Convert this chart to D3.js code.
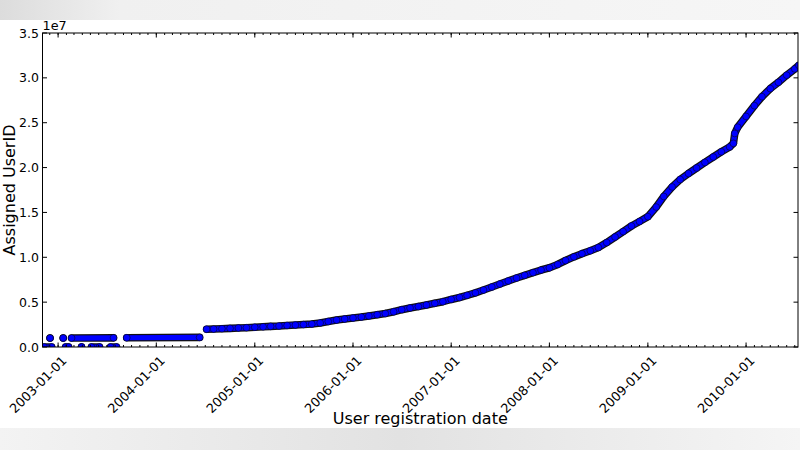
<!DOCTYPE html>
<html>
<head>
<meta charset="utf-8">
<script src="https://cdn.jsdelivr.net/npm/d3@7"></script>
<style>
  body { margin: 0; background: #fff; }
  svg { display: block; font-family: "DejaVu Sans", sans-serif; }
</style>
</head>
<body>
<svg id="chart" width="800" height="450"></svg>
<script>
// Main growth curve (date, assigned user id)
const curveDates = [
  '2004-07-06', '2004-08-01', '2004-09-01', '2004-10-01', '2004-11-01', '2004-12-01',
  '2005-01-01', '2005-02-01', '2005-03-01', '2005-04-01', '2005-05-01', '2005-06-01',
  '2005-07-01', '2005-08-01', '2005-09-01', '2005-10-01', '2005-11-01', '2005-12-01',
  '2006-01-01', '2006-02-01', '2006-03-01', '2006-04-01', '2006-05-01', '2006-06-01',
  '2006-07-01', '2006-08-01', '2006-09-01', '2006-10-01', '2006-11-01', '2006-12-01',
  '2007-01-01', '2007-02-01', '2007-03-01', '2007-04-01', '2007-05-01', '2007-06-01',
  '2007-07-01', '2007-08-01', '2007-09-01', '2007-10-01', '2007-11-01', '2007-12-01',
  '2008-01-01', '2008-02-01', '2008-03-01', '2008-04-01', '2008-05-01', '2008-06-01',
  '2008-07-01', '2008-08-01', '2008-09-01', '2008-10-01', '2008-11-01', '2008-12-01',
  '2009-01-01', '2009-02-01', '2009-03-01', '2009-04-01', '2009-05-01', '2009-06-01',
  '2009-07-01', '2009-08-01', '2009-09-01', '2009-10-01', '2009-11-01', '2009-11-15',
  '2009-11-20', '2009-12-01', '2010-01-01', '2010-02-01', '2010-03-01', '2010-04-01',
  '2010-05-01', '2010-06-01', '2010-07-01', '2010-07-16'
];
const curveValues = [
  1.98e6, 2.00e6, 2.04e6, 2.08e6, 2.12e6, 2.15e6,
  2.20e6, 2.25e6, 2.30e6, 2.34e6, 2.40e6, 2.45e6,
  2.50e6, 2.56e6, 2.68e6, 2.84e6, 3.00e6, 3.12e6,
  3.23e6, 3.34e6, 3.46e6, 3.60e6, 3.73e6, 3.93e6,
  4.16e6, 4.35e6, 4.51e6, 4.68e6, 4.87e6, 5.05e6,
  5.30e6, 5.52e6, 5.76e6, 6.04e6, 6.35e6, 6.69e6,
  7.02e6, 7.36e6, 7.69e6, 7.99e6, 8.29e6, 8.58e6,
  8.83e6, 9.20e6, 9.64e6, 1.005e7, 1.04e7, 1.073e7,
  1.109e7, 1.164e7, 1.226e7, 1.287e7, 1.349e7, 1.399e7,
  1.453e7, 1.56e7, 1.678e7, 1.784e7, 1.867e7, 1.934e7,
  1.995e7, 2.057e7, 2.118e7, 2.176e7, 2.23e7, 2.27e7,
  2.38e7, 2.45e7, 2.57e7, 2.69e7, 2.79e7, 2.88e7,
  2.95e7, 3.03e7, 3.10e7, 3.14e7
];

// Early registrations: runs of points at ~0 and at ~1e6 (start, end)
const lowRuns = [
  ['2002-11-10', '2002-12-08'],
  ['2003-01-29', '2003-02-09'],
  ['2003-03-29', '2003-03-29'],
  ['2003-05-05', '2003-06-04'],
  ['2003-07-15', '2003-08-06']
];
const lowRunValues = [[0, 0], [0, 0], [0, 0], [0, 0], [0, 0]];
const highRuns = [
  ['2002-12-02', '2002-12-02'],
  ['2003-01-20', '2003-01-20'],
  ['2003-02-20', '2003-07-26'],
  ['2003-09-13', '2004-06-10']
];
const highRunValues = [[1.0e6, 1.0e6], [1.0e6, 1.0e6], [1.0e6, 1.02e6], [1.03e6, 1.07e6]];

const xDomain = ['2002-11-04', '2010-07-13'];
const yTicks = [0, 0.5e7, 1.0e7, 1.5e7, 2.0e7, 2.5e7, 3.0e7, 3.5e7];

const parse = d3.timeParse('%Y-%m-%d');
const svg = d3.select('#chart');
const m = {left: 42.5, right: 798, top: 33, bottom: 347};

// Blurry grey bands of the original frame grab
const defs = svg.append('defs');
const grad = defs.append('linearGradient').attr('id', 'band');
grad.append('stop').attr('offset', '0%').attr('stop-color', '#f3f3f3');
grad.append('stop').attr('offset', '50%').attr('stop-color', '#e2e2e2');
grad.append('stop').attr('offset', '100%').attr('stop-color', '#f5f5f5');
const gradTop = defs.append('linearGradient').attr('id', 'bandTop');
gradTop.append('stop').attr('offset', '0%').attr('stop-color', '#dcdcdc');
gradTop.append('stop').attr('offset', '15%').attr('stop-color', '#f0f0f0');
gradTop.append('stop').attr('offset', '100%').attr('stop-color', '#f6f6f6');
svg.append('rect').attr('x', 0).attr('y', 0).attr('width', 800).attr('height', 20).attr('fill', 'url(#bandTop)');
svg.append('rect').attr('x', 0).attr('y', 428).attr('width', 800).attr('height', 22).attr('fill', 'url(#band)');

defs.append('clipPath').attr('id', 'plot')
  .append('rect')
    .attr('x', m.left).attr('y', m.top)
    .attr('width', m.right - m.left).attr('height', m.bottom - m.top);

const x = d3.scaleTime().domain(xDomain.map(parse)).range([m.left, m.right]);
const y = d3.scaleLinear().domain([0, 3.5e7]).range([m.bottom, m.top]);

// series -> point lists
const curve = curveDates.map((d, i) => ({date: parse(d), value: curveValues[i]}));
const runs = lowRuns.map((r, i) => r.map((d, j) => ({date: parse(d), value: lowRunValues[i][j]})))
  .concat(highRuns.map((r, i) => r.map((d, j) => ({date: parse(d), value: highRunValues[i][j]}))));
const series = runs.concat([curve]);

const line = d3.line().x(d => x(d.date)).y(d => y(d.value));
const plot = svg.append('g').attr('clip-path', 'url(#plot)');

// dense scatter drawn as a band: dark rim, blue core, then the markers
plot.selectAll('path.rim').data(series).join('path')
    .attr('class', 'rim')
    .attr('d', line)
    .attr('fill', 'none')
    .attr('stroke', '#111')
    .attr('stroke-width', 7.6)
    .attr('stroke-linecap', 'round')
    .attr('stroke-linejoin', 'round');
plot.selectAll('path.core').data(series).join('path')
    .attr('class', 'core')
    .attr('d', line)
    .attr('fill', 'none')
    .attr('stroke', '#0000ff')
    .attr('stroke-width', 5.2)
    .attr('stroke-linecap', 'round')
    .attr('stroke-linejoin', 'round');
plot.selectAll('circle').data(series.flat()).join('circle')
    .attr('cx', d => x(d.date))
    .attr('cy', d => y(d.value))
    .attr('r', 3.4)
    .attr('fill', '#0000ff')
    .attr('stroke', '#000')
    .attr('stroke-width', 0.7)
    .attr('stroke-opacity', 0.7);

// frame
svg.append('rect')
    .attr('x', m.left).attr('y', m.top)
    .attr('width', m.right - m.left).attr('height', m.bottom - m.top)
    .attr('fill', 'none').attr('stroke', '#000').attr('stroke-width', 1);

// ticks (inward, matplotlib classic style)
const years = x.ticks(d3.timeYear.every(1));
const months = x.ticks(d3.timeMonth.every(1));
const tickG = svg.append('g').attr('stroke', '#000').attr('stroke-width', 1);
[[m.bottom, -1], [m.top, 1]].forEach(([yy, dir]) => {
  tickG.append('g').selectAll('line').data(months).join('line')
      .attr('x1', d => x(d)).attr('x2', d => x(d))
      .attr('y1', yy).attr('y2', yy + dir * 2);
  tickG.append('g').selectAll('line').data(years).join('line')
      .attr('x1', d => x(d)).attr('x2', d => x(d))
      .attr('y1', yy).attr('y2', yy + dir * 4.5);
});
[[m.left, 1], [m.right, -1]].forEach(([xx, dir]) => {
  tickG.append('g').selectAll('line').data(yTicks).join('line')
      .attr('x1', xx).attr('x2', xx + dir * 4.5)
      .attr('y1', d => y(d)).attr('y2', d => y(d));
});

// tick labels
const fmtDate = d3.timeFormat('%Y-%m-%d');
svg.append('g').selectAll('text').data(years).join('text')
    .attr('transform', d => `translate(${x(d) + 3},${m.bottom + 8}) rotate(-45)`)
    .attr('text-anchor', 'end')
    .attr('dy', '0.72em')
    .attr('font-size', 12.8)
    .attr('fill', '#000')
    .text(fmtDate);

svg.append('g').selectAll('text').data(yTicks).join('text')
    .attr('x', m.left - 3.5)
    .attr('y', d => y(d))
    .attr('dy', '0.36em')
    .attr('text-anchor', 'end')
    .attr('font-size', 12.5)
    .attr('fill', '#000')
    .text(d => (d / 1e7).toFixed(1));

svg.append('text')
    .attr('x', m.left)
    .attr('y', m.top - 3)
    .attr('font-size', 12.8)
    .text('1e7');

// axis titles
svg.append('text')
    .attr('x', (m.left + m.right) / 2)
    .attr('y', 424)
    .attr('text-anchor', 'middle')
    .attr('font-size', 16)
    .text('User registration date');

svg.append('text')
    .attr('transform', `translate(15,${(m.top + m.bottom) / 2}) rotate(-90)`)
    .attr('text-anchor', 'middle')
    .attr('font-size', 16)
    .text('Assigned UserID');
</script>
</body>
</html>
